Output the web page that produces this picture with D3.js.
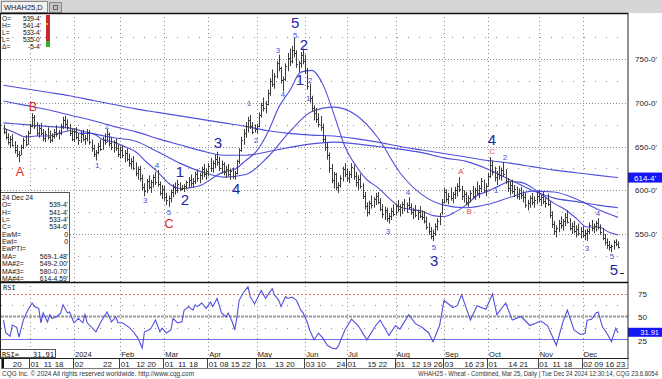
<!DOCTYPE html>
<html>
<head>
<meta charset="utf-8">
<script src="https://cdn.jsdelivr.net/npm/d3@7"></script>
<style>
  body { margin: 0; background: #fff; }
  svg { display: block; }
  text { font-family: "Liberation Sans", Arial, sans-serif; }
  .mono { font-family: "DejaVu Sans Mono", monospace; }
</style>
</head>
<body>
<svg id="chart" width="662" height="379"></svg>
<script>
// WHAH25 daily bars, 14 Nov 2023 .. 24 Dec 2024 (cents/bu)
const highs = [
  675,670,665,662,664,656,652,645,652,660,663,668,
  676,688,686,678,675,677,670,668,672,668,665,670,674,669,676,684,685,681,676,670,
  671,672,665,668,669,663,670,669,658,652,646,654,658,661,665,670,666,661,657,659,652,
  650,651,646,648,642,637,639,632,627,628,618,608,613,617,612,618,621,623,610,606,
  605,597,594,601,607,609,612,609,606,607,611,615,618,614,621,624,620,627,630,625,
  631,637,634,641,644,638,634,632,628,630,625,626,622,635,648,661,670,678,684,686,678,675,
  676,689,700,706,702,715,728,738,734,748,755,741,730,745,757,762,765,774,760,748,758,762,
  755,740,722,708,697,694,688,685,676,662,655,643,630,621,620,609,617,627,631,
  625,622,631,629,621,617,619,608,598,586,588,594,592,597,598,591,584,581,580,574,580,584,
  585,589,584,587,590,586,592,585,580,583,578,582,577,576,570,563,558,555,562,568,574,590,
  603,601,597,603,598,604,608,615,605,600,598,594,600,605,603,610,606,614,612,608,
  620,638,634,627,622,628,626,632,624,614,610,612,606,604,602,604,599,597,589,594,597,593,599,
  600,595,598,592,596,587,576,565,560,566,570,567,574,577,568,563,565,560,562,558,
  559,555,556,563,566,562,565,568,561,557,550,545,542,538,543,544,541.5
];
const lows = [
  664,658,652,648,650,642,638,632,640,647,650,652,
  664,672,670,662,660,663,656,655,658,654,655,659,661,658,663,670,672,668,662,656,
  655,658,652,654,656,652,656,652,644,638,634,641,645,646,652,655,650,646,643,645,638,
  636,637,632,633,627,624,623,616,612,610,600,593,597,601,597,603,606,604,594,590,
  588,583,581,586,592,595,597,599,600,598,601,603,604,603,607,610,608,612,615,612,
  616,621,620,625,628,622,619,617,614,616,612,613,612,618,630,644,652,660,666,670,664,666,
  665,672,683,690,688,697,708,718,716,728,736,722,713,725,736,742,745,752,740,735,740,744,
  733,715,700,690,680,677,672,668,655,645,635,620,608,602,600,597,603,610,615,
  610,608,614,612,604,600,602,590,578,570,572,579,580,583,584,576,568,566,564,562,566,570,
  571,575,570,573,576,574,578,572,567,569,566,568,566,562,555,549,544,542,548,554,560,572,
  585,586,584,588,585,590,593,598,589,586,583,581,586,590,589,594,591,598,597,593,
  604,614,617,610,606,612,611,615,607,598,594,596,592,590,589,590,586,580,577,580,583,580,584,
  586,582,584,580,582,568,557,549,546,552,556,554,559,562,554,550,551,546,548,545,
  546,543,542,550,553,551,553,555,549,543,537,533,531,529,532,536,533.5
];
const closes = [
  667,661,655,659,652,646,641,640,649,657,653,666,
  674,684,674,666,671,665,660,664,661,657,662,667,664,666,674,680,676,672,665,659,
  668,661,657,664,659,660,667,655,648,642,644,651,647,658,655,664,654,650,655,648,641,
  646,640,643,636,631,634,626,620,624,614,604,599,610,604,609,615,609,607,597,602,
  592,589,591,598,604,600,607,602,603,605,609,612,608,611,618,614,617,624,619,622,
  628,625,631,636,632,626,630,621,624,619,622,616,620,633,646,658,666,673,680,674,667,670,
  673,686,697,694,699,711,725,722,731,745,740,726,727,742,751,748,760,757,744,745,755,748,
  737,719,705,694,688,681,676,672,659,650,640,625,612,618,604,606,614,624,619,
  614,619,627,616,609,613,605,594,582,575,585,583,590,594,587,579,573,577,568,571,576,573,
  582,579,581,584,580,583,581,575,577,572,575,571,569,565,558,553,548,551,559,565,571,587,
  598,590,594,591,596,600,605,601,593,596,587,591,597,593,600,597,603,611,600,605,
  616,629,621,615,619,617,623,619,610,603,606,599,601,594,597,595,592,583,586,591,587,589,593,
  590,592,588,586,584,572,561,554,557,563,560,565,570,564,557,559,554,556,551,553,
  549,551,554,560,557,559,562,558,552,546,541,538,535,536,541,539,534.75
];

const firstDay = "2023-11-14";
const holidays = ["2023-11-23","2023-12-25","2024-01-01","2024-01-15","2024-02-19","2024-03-29",
  "2024-05-27","2024-06-19","2024-07-04","2024-09-02","2024-11-28"];

// moving averages, sampled at bar numbers
const maBars = [0,10,20,30,40,50,60,70,80,90,100,110,120,130,140,150,160,170,180,190,200,210,220,230,240,250,260,270,279];
const ma  = [677,675,673,671,665,660,656,644,631,621,615,618,638,667,690,695,686,660,620,595,583,580,584,592,599,598,590,578,569];
const ma3 = [702,697,692,686,680,673,667,659,652,645,640,640,644,649,653,655,653,650,647,643,637,633,624,612,600,591,587,583,580];
const ma4 = [720,716,712,708,703,698,693,689,685,681,677,673,668,665,663,662,659,655,650,646,642,638,634,631,627,623,620,617,614.5];
const ma2Bars = [0,5,10,15,20,25,30,35,40,45,50,55,60,65,70,75,80,85,90,95,100,105,110,115,120,125,130,135,140,
  145,150,155,160,165,170,175,180,185,190,195,200,205,210,215,220,225,230,235,240,245,250,255,260,265,270,275,279];
const ma2 = [671,666,661,662,662,665,668,665,665,658,655,650,644,632,621,608,602,603,606,614,621,624,634,645,666,695,714,735,737,
  721,687,650,628,612,603,591,581,578,576,571,570,575,583,594,599,605,610,609,603,594,585,578,568,558,558,552,549];

// RSI, sampled at bar numbers
const rsiBars = [0,1,3,4,6,7,9,11,13,14,16,17,18,20,21,22,24,26,27,29,30,32,34,36,37,38,42,44,47,49,51,52,54,57,59,61,63,64,66,67,69,71,72,74,76,77,79,81,82,84,86,87,88,90,92,94,95,97,99,101,102,104,105,106,107,109,111,112,113,114,116,117,119,120,122,123,125,126,128,129,131,133,135,136,138,139,141,143,145,147,149,151,152,155,158,161,165,169,171,175,178,180,184,187,190,193,195,198,200,204,206,208,212,215,219,222,224,228,231,235,239,244,247,251,254,256,259,262,264,265,267,269,270,272,273,275,276,278,279];
const rsiValues = [46,32,28,40.5,38,27,46,57,65,61,59,43,54,44,52,48,49.5,54,63,54,55,43,48,43,52,43,33,43,55,44,49.5,43,43,38,33,26,15,33,35,37,46,33,37,31.6,35,48,43,44,57,61,57,63,61,65,59,66,61,70,54,49.5,54,43,35,49.5,68,77,83,72,68,64,74,79,70,74,81,74,68,61,72,70,71.5,68,57,54,43,35,24,31.6,26,18,15,14,17,35,47,40,24,40,46,29,40,36,52,42,38,32,22,40,68,60,62,74,46,62,58,75,52,65,46,50,40,45,40,18,44,57,35,30,31,46,47,54,55,38,35,27,22,37,31.91];

const priceTicks = [550, 600, 650, 700, 750];
const priceMinor = [525, 575, 625, 675, 725, 775];
const rsiTicks = [25, 50, 75];
const dayTicks = ["2023-11-20","2023-12-01","2023-12-11","2023-12-18","2024-01-02","2024-01-22","2024-02-01",
  "2024-02-12","2024-02-20","2024-03-01","2024-03-11","2024-03-18","2024-04-01","2024-04-08","2024-04-15",
  "2024-04-22","2024-05-01","2024-05-13","2024-05-20","2024-06-03","2024-06-10","2024-06-24","2024-07-01",
  "2024-07-15","2024-07-22","2024-08-01","2024-08-12","2024-08-19","2024-08-26","2024-09-03","2024-09-16",
  "2024-09-23","2024-10-01","2024-10-14","2024-10-21","2024-11-01","2024-11-11","2024-11-18","2024-12-02",
  "2024-12-09","2024-12-16","2024-12-23"];
const monthNames = ["2024","Feb","Mar","Apr","May","Jun","Jul","Aug","Sep","Oct","Nov","Dec"];

// Elliott wave counts: text, bar number, price where the label sits, degree
const waveText  = ["5","2","1","3","4","1","2","3","4","5", "A","B","C",
  "1","2","3","4","5","1","2","3","4","5","1","2","3","4","5","1","2","3","4","5", "A","B","C"];
const waveBar   = [132.4,136.4,134.6,97.4,105.6,80.1,82.4,195.5,221.8,277.2, 7.5,13.4,75.1,
  42.5,47,64.3,69.7,75.1,111.5,114.6,124.6,126.9,132.4,138.3,139.2,174.6,183.7,195.5,223.6,227.7,264.9,269.9,276.3,
  207.7,211.4,221.8];
const wavePrice = [792,767,727,655,602,622,589,520,658,510, 621,695,561,
  628,673,588,628,575,699,657,760,709,777,705,725,553,597,535,600,638,534,574,524,
  621,576,644];
const waveKind  = ["major","major","major","major","major","major","major","major","major","major",
  "abc","abc","abc",
  "minor","minor","minor","minor","minor","minor","minor","minor","minor","minor","minor","minor","minor","minor","minor","minor","minor","minor","minor","minor",
  "abcMinor","abcMinor","abcMinor"];

const topInfo = [["O=", "539-4'"], ["H=", "541-4'"], ["L=", "533-4'"], ["L=", "535-0'"], ["\u0394=", "-5-4'"]];
const boxInfo = [["24 Dec 24", ""], ["O=", "539-4'"], ["H=", "541-4'"], ["L=", "533-4'"], ["C=", "534-6'"],
  ["EwM=", "0"], ["EwI=", "0"], ["EwPTI=", ""], ["MA=", "569-1.48'"], ["MA#2=", "549-2.00'"],
  ["MA#3=", "580-0.70'"], ["MA#4=", "614-4.59'"]];

// ---------------------------------------------------------------
const svg = d3.select("#chart");
const plotRight = 628;
const mainTop = 13, mainBottom = 282, rsiBottom = 358, dayBottom = 369;
const blue = "#5050dc";
const boxBlue = "#1515f5";

// trading calendar
const holidaySet = new Set(holidays);
const dates = [];
let day = new Date(firstDay + "T00:00:00Z");
while (dates.length < closes.length) {
    const key = day.toISOString().slice(0, 10);
    const dow = day.getUTCDay();
    if (dow !== 0 && dow !== 6 && !holidaySet.has(key)) dates.push(key);
    day = new Date(day.getTime() + 86400000);
}
const barOf = new Map(dates.map((d, i) => [d, i]));
const monthStarts = dates
    .map((d, i) => ({ d, i }))
    .filter((o, k, arr) => k > 0 && o.d.slice(0, 7) !== arr[k - 1].d.slice(0, 7));

const x = d3.scaleLinear().domain([0, closes.length - 1]).range([3.5, 618]);
const y = d3.scaleLinear().domain([550, 750]).range([234, 59]);
const yR = d3.scaleLinear().domain([25, 75]).range([339, 294]);
const px = (v) => Math.round(v) + 0.5;

// frame
svg.append("rect").attr("width", 662).attr("height", 379).attr("fill", "#fff");
svg.append("rect").attr("width", 662).attr("height", mainTop).attr("fill", "#d6d6d6");
svg.append("rect").attr("x", 1.5).attr("y", 1.5).attr("width", 46).attr("height", 11)
    .attr("fill", "#f2f2f2").attr("stroke", "#8a8a8a");
svg.append("text").attr("x", 4).attr("y", 10).attr("font-size", 7.5).attr("fill", "#222").text("WHAH25,D");
svg.append("rect").attr("x", 49.5).attr("y", 2.5).attr("width", 12).attr("height", 10)
    .attr("fill", "#c4c4c4").attr("stroke", "#8a8a8a");
svg.append("rect").attr("x", 53.5).attr("y", 5.5).attr("width", 4).attr("height", 4)
    .attr("fill", "none").attr("stroke", "#666");

svg.append("defs").append("clipPath").attr("id", "mainClip")
    .append("rect").attr("x", 1).attr("y", mainTop).attr("width", plotRight - 1).attr("height", mainBottom - mainTop);
svg.select("defs").append("clipPath").attr("id", "rsiClip")
    .append("rect").attr("x", 1).attr("y", mainBottom).attr("width", plotRight - 1).attr("height", rsiBottom - mainBottom);

// ---------- main panel ----------
const main = svg.append("g").attr("clip-path", "url(#mainClip)");
const grid = main.append("g").attr("stroke", "#8c8c8c").attr("stroke-width", 1);
grid.selectAll("line.maj").data(priceTicks).join("line")
    .attr("x1", 1).attr("x2", plotRight)
    .attr("y1", (d) => px(y(d))).attr("y2", (d) => px(y(d)))
    .attr("stroke-dasharray", "1,2");
grid.selectAll("line.min").data(priceMinor).join("line")
    .attr("x1", 1).attr("x2", plotRight)
    .attr("y1", (d) => px(y(d))).attr("y2", (d) => px(y(d)))
    .attr("stroke-dasharray", "1,10");
grid.selectAll("line.vert").data(monthStarts).join("line")
    .attr("x1", (d) => px(x(d.i))).attr("x2", (d) => px(x(d.i)))
    .attr("y1", mainTop).attr("y2", mainBottom)
    .attr("stroke-dasharray", "1,3");

const maLine = d3.line().curve(d3.curveMonotoneX);
[[maBars, ma4], [maBars, ma3], [maBars, ma], [ma2Bars, ma2]].forEach(([bars, vals]) => {
    main.append("path")
        .attr("d", maLine(bars.map((b, k) => [x(b), y(vals[k])])))
        .attr("fill", "none").attr("stroke", blue).attr("stroke-width", 1.1);
});

const barG = main.append("g").attr("stroke", "#3c3c3c").attr("stroke-width", 1);
barG.selectAll("line.hl").data(closes).join("line")
    .attr("x1", (d, i) => px(x(i))).attr("x2", (d, i) => px(x(i)))
    .attr("y1", (d, i) => y(highs[i])).attr("y2", (d, i) => y(lows[i]));
barG.selectAll("line.cl").data(closes).join("line")
    .attr("x1", (d, i) => px(x(i))).attr("x2", (d, i) => px(x(i)) + 1.5)
    .attr("y1", (d) => px(y(d))).attr("y2", (d) => px(y(d)));

const waveStyle = {
    major:    { size: 15, color: "#2424a8" },
    abc:      { size: 12.5, color: "#e02828" },
    minor:    { size: 8, color: "#4a4ae0" },
    abcMinor: { size: 8, color: "#e05050" },
};
main.append("g").selectAll("text").data(waveText).join("text")
    .attr("x", (d, i) => x(waveBar[i]))
    .attr("y", (d, i) => y(wavePrice[i]))
    .attr("text-anchor", "middle").attr("dominant-baseline", "central")
    .attr("font-size", (d, i) => waveStyle[waveKind[i]].size)
    .attr("fill", (d, i) => waveStyle[waveKind[i]].color)
    .text((d) => d);
main.append("line").attr("x1", 620).attr("x2", 624).attr("y1", 273.5).attr("y2", 273.5)
    .attr("stroke", "#222");

// top-left OHLC readout
const topG = svg.append("g").attr("class", "mono").attr("font-size", 6.6).attr("fill", "#111");
topInfo.forEach(([k, v], r) => {
    topG.append("text").attr("x", 2).attr("y", 21 + r * 7).text(k);
    topG.append("text").attr("x", 41).attr("y", 21 + r * 7).attr("text-anchor", "end").text(v);
});
svg.append("rect").attr("x", 46).attr("y", 15).attr("width", 4).attr("height", 26).attr("fill", "#c62a2a");
svg.append("rect").attr("x", 46).attr("y", 41).attr("width", 4).attr("height", 6).attr("fill", "#2fae2f");
svg.append("rect").attr("x", 46).attr("y", 23).attr("width", 2).attr("height", 2).attr("fill", "#e8b000");

// bottom-left data box
svg.append("rect").attr("x", 0.5).attr("y", 192.5).attr("width", 69).attr("height", 89)
    .attr("fill", "#fff").attr("stroke", "#555");
const boxG = svg.append("g").attr("class", "mono").attr("font-size", 6.8).attr("fill", "#111");
boxInfo.forEach(([k, v], r) => {
    boxG.append("text").attr("x", 2).attr("y", 200 + r * 7.35).text(k);
    boxG.append("text").attr("x", 68).attr("y", 200 + r * 7.35).attr("text-anchor", "end").text(v);
});

// price axis
svg.append("g").selectAll("text").data(priceTicks).join("text")
    .attr("x", 635).attr("y", (d) => y(d) + 3)
    .attr("font-size", 8).attr("fill", "#222")
    .text((d) => `${d}-0'`);
const lastMa4 = ma4[ma4.length - 1];
svg.append("rect").attr("x", plotRight).attr("y", y(lastMa4) - 5).attr("width", 34).attr("height", 10)
    .attr("fill", boxBlue);
svg.append("text").attr("x", 634).attr("y", y(lastMa4) + 3).attr("font-size", 8).attr("fill", "#fff")
    .text(`${Math.floor(lastMa4)}-${Math.round((lastMa4 % 1) * 8)}'`);

// ---------- RSI panel ----------
const rsiG = svg.append("g").attr("clip-path", "url(#rsiClip)");
rsiG.selectAll("line.vert").data(monthStarts).join("line")
    .attr("x1", (d) => px(x(d.i))).attr("x2", (d) => px(x(d.i)))
    .attr("y1", mainBottom).attr("y2", rsiBottom)
    .attr("stroke", "#8c8c8c").attr("stroke-dasharray", "1,3");
rsiG.selectAll("line.minor").data([37.5, 62.5]).join("line")
    .attr("x1", 1).attr("x2", plotRight)
    .attr("y1", (d) => px(yR(d))).attr("y2", (d) => px(yR(d)))
    .attr("stroke", "#8c8c8c").attr("stroke-dasharray", "1,10");
rsiG.append("line").attr("x1", 1).attr("x2", plotRight).attr("y1", px(yR(75))).attr("y2", px(yR(75)))
    .attr("stroke", "#e07070").attr("stroke-dasharray", "2,2");
rsiG.append("line").attr("x1", 1).attr("x2", plotRight).attr("y1", yR(50)).attr("y2", yR(50))
    .attr("stroke", "#9a9a9a").attr("stroke-width", 2).attr("stroke-dasharray", "3,1");
rsiG.append("line").attr("x1", 1).attr("x2", plotRight).attr("y1", px(yR(25))).attr("y2", px(yR(25)))
    .attr("stroke", "#7070e0");
rsiG.append("path")
    .attr("d", d3.line()(rsiBars.map((b, k) => [x(b), yR(rsiValues[k])])))
    .attr("fill", "none").attr("stroke", blue).attr("stroke-width", 1.1);
svg.append("text").attr("x", 3).attr("y", 290).attr("class", "mono").attr("font-size", 7).attr("fill", "#222").text("RSI");

svg.append("g").selectAll("text").data(rsiTicks).join("text")
    .attr("x", 638).attr("y", (d) => yR(d) + (d === 25 ? 4.5 : 3))
    .attr("font-size", 8).attr("fill", "#222").text((d) => d);
const lastRsi = rsiValues[rsiValues.length - 1];
svg.append("rect").attr("x", plotRight).attr("y", yR(lastRsi) - 5).attr("width", 34).attr("height", 9)
    .attr("fill", boxBlue);
svg.append("text").attr("x", 659).attr("y", yR(lastRsi) + 2.5).attr("text-anchor", "end")
    .attr("font-size", 7.5).attr("fill", "#fff").text(lastRsi.toFixed(2));

// month labels inside the bottom of the RSI panel
const firstOfMonths = monthStarts.filter((d) => d.d >= "2024-01-01");
svg.append("g").selectAll("text").data(firstOfMonths).join("text")
    .attr("x", (d) => x(d.i) + 1).attr("y", 356.5)
    .attr("font-size", 7.5).attr("fill", "#222")
    .text((d, k) => monthNames[k]);
svg.append("rect").attr("x", 0.5).attr("y", 349.5).attr("width", 55).attr("height", 8)
    .attr("fill", "#fff").attr("stroke", "#555");
svg.append("text").attr("x", 2).attr("y", 356.5).attr("class", "mono").attr("font-size", 7).attr("fill", "#111").text("RSI=");
svg.append("text").attr("x", 54).attr("y", 356.5).attr("class", "mono").attr("font-size", 7).attr("fill", "#111")
    .attr("text-anchor", "end").text(lastRsi.toFixed(2));

// ---------- date row ----------
svg.append("rect").attr("x", 1.5).attr("y", rsiBottom + 0.5).attr("width", plotRight - 1.5).attr("height", dayBottom - rsiBottom - 1)
    .attr("fill", "#fff").attr("stroke", "#777");
svg.append("rect").attr("x", 2).attr("y", rsiBottom + 1).attr("width", 2).attr("height", 9).attr("fill", "#111");
svg.append("g").selectAll("line").data(monthStarts).join("line")
    .attr("x1", (d) => px(x(d.i) - 1)).attr("x2", (d) => px(x(d.i) - 1))
    .attr("y1", rsiBottom + 1).attr("y2", dayBottom - 1)
    .attr("stroke", "#444");
svg.append("g").selectAll("text").data(dayTicks).join("text")
    .attr("x", (d) => x(barOf.get(d)) + 0.5).attr("y", 366.5)
    .attr("font-size", 8).attr("fill", "#222")
    .text((d) => d.slice(8, 10));

// panel borders
svg.append("rect").attr("x", 0.5).attr("y", mainTop + 0.5).attr("width", plotRight - 0.5).attr("height", rsiBottom - mainTop)
    .attr("fill", "none").attr("stroke", "#222");
svg.append("line").attr("x1", 0).attr("x2", plotRight).attr("y1", mainTop + 0.5).attr("y2", mainTop + 0.5)
    .attr("stroke", "#111").attr("stroke-width", 1.5);
svg.append("line").attr("x1", 0).attr("x2", plotRight).attr("y1", mainBottom + 0.5).attr("y2", mainBottom + 0.5)
    .attr("stroke", "#111").attr("stroke-width", 1.5);

// footer
svg.append("text").attr("x", 2).attr("y", 376).attr("font-size", 7).attr("fill", "#333")
    .attr("textLength", 192).attr("lengthAdjust", "spacingAndGlyphs")
    .text("CQG Inc. \u00a9 2024 All rights reserved worldwide. http://www.cqg.com");
svg.append("text").attr("x", 658).attr("y", 376).attr("text-anchor", "end").attr("font-size", 6.5).attr("fill", "#333")
    .attr("textLength", 240).attr("lengthAdjust", "spacingAndGlyphs")
    .text("WHAH25 - Wheat - Combined, Mar 25, Daily | Tue Dec 24 2024 12:30:14, CQG 23.6.8054");
</script>
</body>
</html>
